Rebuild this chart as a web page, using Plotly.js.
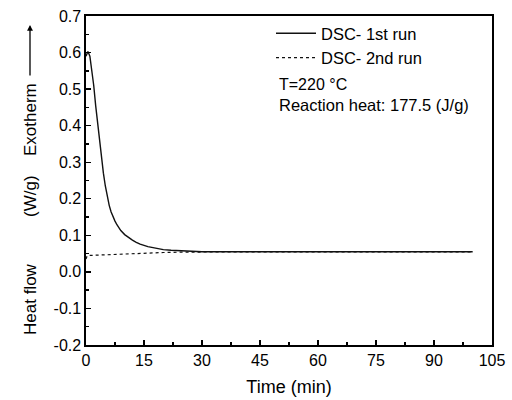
<!DOCTYPE html>
<html>
<head>
<meta charset="utf-8">
<script src="https://cdn.plot.ly/plotly-3.0.1.min.js"></script>
<style>html,body{margin:0;padding:0;background:#fff}#chart{width:512px;height:400px}</style>
</head>
<body>
<div id="chart"></div>
<script>
const run1Time = [0, 0.5, 1, 1.5, 2, 2.5, 3, 3.5, 4, 4.5, 5, 5.5, 6, 6.5, 7, 7.5, 8, 9, 10, 11, 12, 13, 14, 16, 18, 20, 22, 25, 28, 30, 35, 40, 50, 60, 70, 80, 90, 100];
const run1Flow = [0.59, 0.603, 0.59, 0.555, 0.51, 0.455, 0.405, 0.355, 0.307, 0.27, 0.235, 0.205, 0.182, 0.164, 0.150, 0.139, 0.129, 0.113, 0.102, 0.094, 0.087, 0.081, 0.076, 0.069, 0.064, 0.061, 0.059, 0.057, 0.056, 0.055, 0.055, 0.055, 0.055, 0.055, 0.055, 0.055, 0.055, 0.055];
const run2Time = [0, 0.3, 1, 3, 5, 10, 15, 20, 25, 30, 40, 50, 60, 70, 80, 90, 100];
const run2Flow = [0.035, 0.044, 0.045, 0.046, 0.047, 0.049, 0.051, 0.053, 0.054, 0.055, 0.055, 0.055, 0.055, 0.055, 0.055, 0.055, 0.055];
const seriesNames = ["DSC- 1st run", "DSC- 2nd run"];
const xTicks = [0, 15, 30, 45, 60, 75, 90, 105];
const yTicks = [-0.2, -0.1, 0.0, 0.1, 0.2, 0.3, 0.4, 0.5, 0.6, 0.7];
const yTickText = ["-0.2", "-0.1", "0.0", "0.1", "0.2", "0.3", "0.4", "0.5", "0.6", "0.7"];
const noteLines = ["T=220 °C", "Reaction heat: 177.5 (J/g)"];
const yTitleParts = ["Heat flow", "(W/g)", "Exotherm"];

const font = "Liberation Sans, Arial, sans-serif";
const traces = [
  {x: run1Time, y: run1Flow, name: seriesNames[0], mode: "lines", line: {color: "#111", width: 1.4}},
  {x: run2Time, y: run2Flow, name: seriesNames[1], mode: "lines", line: {color: "#111", width: 1.2, dash: "dot"}}
];
const axisCommon = {
  showgrid: false, zeroline: false, showline: true, linecolor: "#000", linewidth: 1.6,
  mirror: true, ticks: "inside", ticklen: 5, tickwidth: 1.4, tickcolor: "#000",
  tickfont: {family: font, size: 16, color: "#000"}
};
const titleFont = {family: font, size: 17, color: "#000"};
function py(px) { return 1 - (px - 16) / 329; }
function pxX(px) { return (px - 86) / 406; }
const yTitleCenters = [299, 196, 120];
const annotations = yTitleParts.map((t, i) => ({
  xref: "paper", yref: "paper", x: pxX(30), y: py(yTitleCenters[i]), xanchor: "center", yanchor: "middle",
  textangle: -90, showarrow: false, text: t, font: titleFont
}));
annotations.push({
  xref: "paper", yref: "paper", x: pxX(30), y: py(25), ax: 0, ay: 52, axref: "pixel", ayref: "pixel",
  showarrow: true, arrowhead: 2, arrowsize: 0.9, arrowwidth: 1.3, arrowcolor: "#000", text: ""
});
annotations.push(
  {xref: "paper", yref: "paper", x: pxX(277), y: py(84), xanchor: "left", yanchor: "middle", showarrow: false,
   text: noteLines[0], font: {family: font, size: 16, color: "#000"}},
  {xref: "paper", yref: "paper", x: pxX(277), y: py(105), xanchor: "left", yanchor: "middle", showarrow: false,
   text: noteLines[1], font: {family: font, size: 16.5, color: "#000"}}
);
const layout = {
  width: 512, height: 400,
  margin: {l: 86, r: 20, t: 16, b: 55},
  paper_bgcolor: "#fff", plot_bgcolor: "#fff",
  font: {family: font, color: "#000"},
  showlegend: true,
  legend: {x: pxX(271), y: py(16), xanchor: "left", yanchor: "top", bgcolor: "rgba(0,0,0,0)",
           itemwidth: 40, font: {family: font, size: 16.5, color: "#000"}, tracegroupgap: 0},
  xaxis: Object.assign({}, axisCommon, {
    range: [0, 105], tickmode: "array", tickvals: xTicks,
    minor: {ticks: "inside", ticklen: 3, dtick: 7.5, tick0: 0, tickcolor: "#000"},
    title: {text: "Time (min)", font: {family: font, size: 18, color: "#000"}, standoff: 12}
  }),
  yaxis: Object.assign({}, axisCommon, {
    range: [-0.2, 0.7], tickmode: "array", tickvals: yTicks, ticktext: yTickText,
    minor: {ticks: "inside", ticklen: 3, dtick: 0.05, tick0: 0, tickcolor: "#000"}
  }),
  annotations: annotations
};
Plotly.newPlot("chart", traces, layout, {displayModeBar: false, staticPlot: true});
</script>
</body>
</html>
